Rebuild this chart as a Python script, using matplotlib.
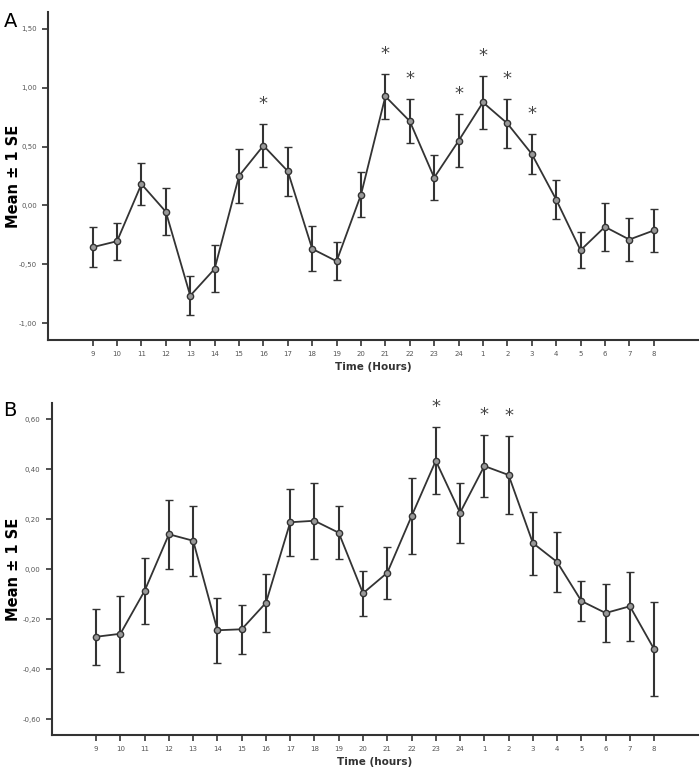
import numpy as np
import matplotlib
matplotlib.use('Agg')
import matplotlib.pyplot as plt
from matplotlib.ticker import FuncFormatter

hours = ['9', '10', '11', '12', '13', '14', '15', '16', '17', '18', '19', '20',
         '21', '22', '23', '24', '1', '2', '3', '4', '5', '6', '7', '8']

# Panel A
mean_a = [-0.355, -0.304, 0.181, -0.054, -0.767, -0.539, 0.25, 0.508, 0.29, -0.369,
          -0.474, 0.091, 0.926, 0.715, 0.236, 0.548, 0.875, 0.696, 0.437, 0.05,
          -0.381, -0.182, -0.29, -0.213]
se_a = [0.172, 0.158, 0.176, 0.199, 0.168, 0.199, 0.233, 0.18, 0.207, 0.19,
        0.16, 0.189, 0.189, 0.185, 0.193, 0.224, 0.226, 0.207, 0.168, 0.162,
        0.152, 0.203, 0.186, 0.182]
star_a = ['16', '21', '22', '24', '1', '2', '3']

# Panel B
mean_b = [-0.27, -0.258, -0.086, 0.14, 0.114, -0.244, -0.24, -0.134, 0.188, 0.194,
          0.146, -0.096, -0.014, 0.212, 0.434, 0.226, 0.413, 0.377, 0.105, 0.029,
          -0.127, -0.175, -0.148, -0.32]
se_b = [0.111, 0.152, 0.133, 0.138, 0.14, 0.131, 0.099, 0.117, 0.133, 0.152,
        0.106, 0.09, 0.103, 0.151, 0.134, 0.12, 0.124, 0.156, 0.126, 0.12,
        0.08, 0.116, 0.138, 0.188]
star_b = ['23', '1', '2']

fig = plt.figure(figsize=(7, 7.68), dpi=100)
ax_a = fig.add_axes([0.0686, 0.557, 0.928, 0.427])
ax_b = fig.add_axes([0.0739, 0.0426, 0.923, 0.433])

comma = FuncFormatter(lambda v, p: ('%.2f' % v).replace('.', ','))


def panel(ax, mean, se, stars, ylim, yticks, xlabel, ylab_x):
    x = np.arange(len(hours))
    ax.errorbar(x, mean, yerr=se, color='#333333', lw=1.3, elinewidth=1.5,
                capsize=3, capthick=1.3, marker='o', ms=4.5, mfc='#999999',
                mec='#333333', mew=1)
    for h in stars:
        i = hours.index(h)
        ax.annotate('*', (i, mean[i] + se[i]), xytext=(0, 8), textcoords='offset points',
                    ha='center', va='bottom', fontsize=13, color='#444444')
    ax.set_xlim(-1.83, 24.8)
    ax.set_ylim(*ylim)
    ax.set_xticks(x)
    ax.set_xticklabels(hours)
    ax.set_yticks(yticks)
    ax.yaxis.set_major_formatter(comma)
    for s in ['top', 'right']:
        ax.spines[s].set_visible(False)
    for s in ['left', 'bottom']:
        ax.spines[s].set_linewidth(1.5)
        ax.spines[s].set_color('#333333')
    ax.tick_params(direction='out', length=4, width=1.2, color='#333333',
                   labelsize=5, labelcolor='#555555', pad=4)
    ax.set_xlabel(xlabel, fontsize=7.5, fontweight='bold', color='#333333', labelpad=3)
    ax.set_ylabel('Mean ± 1 SE', fontsize=10.5, fontweight='bold')
    ax.yaxis.set_label_coords(ylab_x, 0.5)


panel(ax_a, mean_a, se_a, star_a, (-1.145, 1.64), [-1.0, -0.5, 0.0, 0.5, 1.0, 1.5],
      'Time (Hours)', -0.042)
panel(ax_b, mean_b, se_b, star_b, (-0.664, 0.666), [-0.6, -0.4, -0.2, 0.0, 0.2, 0.4, 0.6],
      'Time (hours)', -0.048)

fig.text(0.005, 0.985, 'A', fontsize=14, va='top')
fig.text(0.005, 0.478, 'B', fontsize=14, va='top')

fig.savefig('out.png', dpi=100)
